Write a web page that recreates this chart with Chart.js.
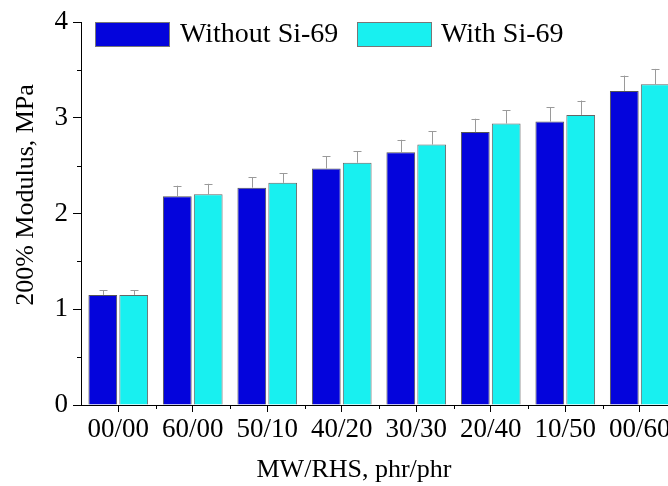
<!DOCTYPE html>
<html>
<head>
<meta charset="utf-8">
<script src="https://cdn.jsdelivr.net/npm/chart.js@4.4.1/dist/chart.umd.min.js"></script>
<style>
  html, body { margin: 0; padding: 0; background: #fff; overflow: hidden; }
  #wrap { width: 700px; height: 486px; }
</style>
</head>
<body>
<div id="wrap"><canvas id="modChart" width="700" height="486"></canvas></div>
<script>
// data
const categories = ['00/00', '60/00', '50/10', '40/20', '30/30', '20/40', '10/50', '00/60'];
const withoutSi = [1.15, 2.18, 2.27, 2.47, 2.64, 2.85, 2.96, 3.28];
const withSi = [1.15, 2.20, 2.32, 2.53, 2.72, 2.94, 3.03, 3.35];
const errWithout = [0.05, 0.11, 0.11, 0.13, 0.13, 0.14, 0.15, 0.16];
const errWith = [0.05, 0.11, 0.10, 0.12, 0.14, 0.14, 0.15, 0.16];
const yTicks = [0, 1, 2, 3, 4];

const FONT = "'Liberation Serif', 'Times New Roman', serif";

// upward error bars
const errorBars = {
  id: 'errorBars',
  afterDatasetsDraw(chart) {
    const ctx = chart.ctx;
    const y = chart.scales.y;
    const errs = [errWithout, errWith];
    ctx.save();
    ctx.strokeStyle = '#9a9a9a';
    ctx.lineWidth = 1;
    chart.data.datasets.forEach((ds, di) => {
      chart.getDatasetMeta(di).data.forEach((bar, i) => {
        const top = y.getPixelForValue(ds.data[i] + errs[di][i]);
        const x = Math.round(bar.x) + 0.5;
        ctx.beginPath();
        ctx.moveTo(x, bar.y);
        ctx.lineTo(x, top);
        ctx.moveTo(x - 4, Math.round(top) + 0.5);
        ctx.lineTo(x + 4, Math.round(top) + 0.5);
        ctx.stroke();
      });
    });
    ctx.restore();
  }
};

// minor ticks, legend and axis titles
const decorations = {
  id: 'decorations',
  afterDraw(chart) {
    const ctx = chart.ctx;
    const xs = chart.scales.x, ys = chart.scales.y;
    const area = chart.chartArea;
    ctx.save();
    ctx.strokeStyle = '#000';
    ctx.lineWidth = 1;
    ctx.beginPath();
    for (let v = 0.5; v < 4; v += 1) {
      const py = Math.round(ys.getPixelForValue(v)) + 0.5;
      ctx.moveTo(area.left - 4, py);
      ctx.lineTo(area.left, py);
    }
    for (let i = 0; i < categories.length - 1; i++) {
      const px = Math.round((xs.getPixelForValue(i) + xs.getPixelForValue(i + 1)) / 2) + 0.5;
      ctx.moveTo(px, area.bottom);
      ctx.lineTo(px, area.bottom + 4);
    }
    ctx.stroke();

    // legend
    ctx.font = '28px ' + FONT;
    ctx.textBaseline = 'middle';
    ctx.textAlign = 'left';
    const items = [
      { x: 95, tx: 180 },
      { x: 357, tx: 441 }
    ];
    chart.data.datasets.forEach((ds, i) => {
      const it = items[i];
      ctx.fillStyle = ds.backgroundColor;
      ctx.fillRect(it.x, 22, 74, 24);
      ctx.strokeStyle = '#777';
      ctx.strokeRect(it.x + 0.5, 22.5, 74, 24);
      ctx.fillStyle = '#000';
      ctx.fillText(ds.label, it.tx, 35);
    });

    // axis titles
    ctx.font = '26px ' + FONT;
    ctx.textAlign = 'center';
    ctx.fillText('MW/RHS, phr/phr', 354, 470);
    ctx.translate(26, 195);
    ctx.rotate(-Math.PI / 2);
    ctx.fillText('200% Modulus, MPa', 0, 0);
    ctx.restore();
  }
};

new Chart(document.getElementById('modChart'), {
  type: 'bar',
  data: {
    labels: categories,
    datasets: [{
      label: 'Without Si-69',
      data: withoutSi,
      backgroundColor: '#0404dc',
      borderColor: '#555',
      borderWidth: 1
    }, {
      label: 'With Si-69',
      data: withSi,
      backgroundColor: '#18f0f0',
      borderColor: '#666',
      borderWidth: 1
    }]
  },
  options: {
    responsive: false,
    animation: false,
    devicePixelRatio: 1,
    categoryPercentage: 0.83,
    barPercentage: 0.93,
    layout: { padding: { top: 22, right: 23, left: 0, bottom: 0 } },
    plugins: {
      legend: { display: false },
      tooltip: { enabled: false }
    },
    scales: {
      x: {
        grid: { display: true, drawOnChartArea: false, offset: false, tickLength: 7, color: '#000' },
        border: { display: true, color: '#000', width: 1 },
        ticks: { color: '#000', font: { family: FONT, size: 27 }, padding: 2, maxRotation: 0, autoSkip: false },
        afterFit(scale) { scale.height = 81; }
      },
      y: {
        min: 0,
        max: 4,
        afterBuildTicks(scale) { scale.ticks = yTicks.map(v => ({ value: v })); },
        grid: { display: true, drawOnChartArea: false, tickLength: 8, color: '#000' },
        border: { display: true, color: '#000', width: 1 },
        ticks: { color: '#000', font: { family: FONT, size: 27 }, padding: 5 },
        afterFit(scale) { scale.width = 81; }
      }
    }
  },
  plugins: [errorBars, decorations]
});
</script>
</body>
</html>
